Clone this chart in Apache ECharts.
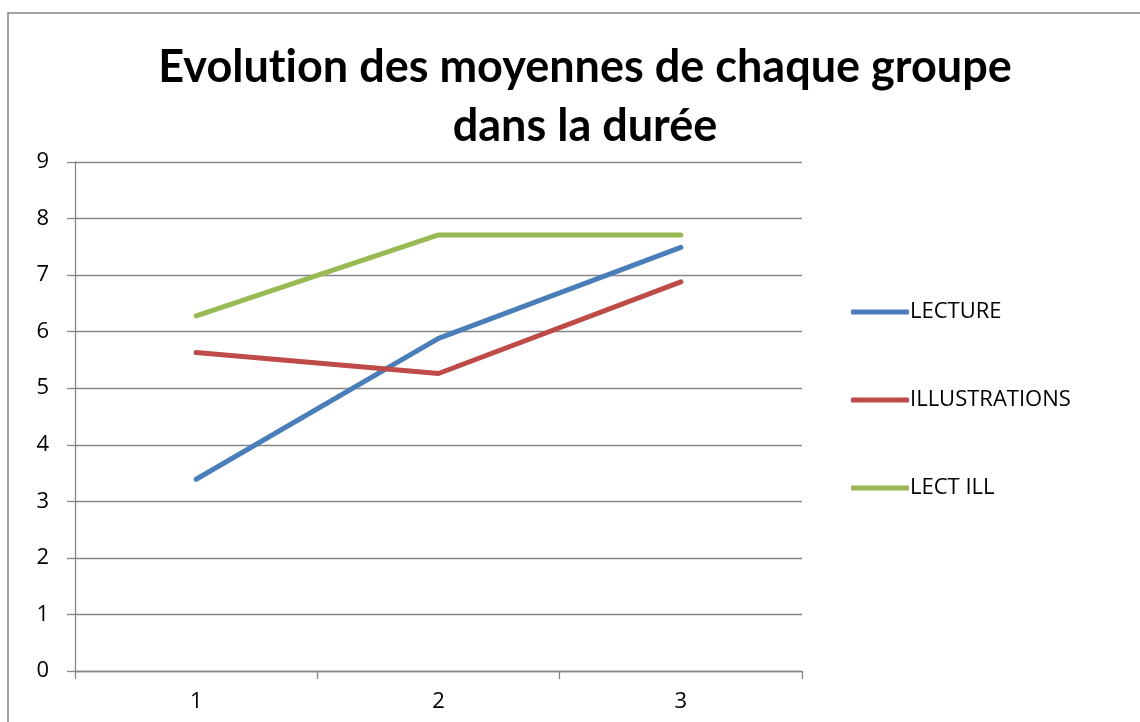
<!DOCTYPE html>
<html><head><meta charset="utf-8">
<script src="https://cdn.jsdelivr.net/npm/echarts@6/dist/echarts.min.js"></script>
<style>html,body{margin:0;padding:0;background:#fff}#c{width:1140px;height:722px}</style>
</head><body><div id="c"></div>
<script>
const titleLines = ['Evolution des moyennes de chaque groupe', 'dans la durée'];
const categories = ['1', '2', '3'];
const yTicks = { min: 0, max: 9, interval: 1 };
const lecture = [3.39, 5.88, 7.49];
const illustrations = [5.63, 5.26, 6.88];
const lectIll = [6.28, 7.71, 7.71];
const seriesNames = ['LECTURE', 'ILLUSTRATIONS', 'LECT ILL'];
const colors = ['#4a7ebb', '#be4b48', '#98b954'];

const chart = echarts.init(document.getElementById('c'));
const gridCol = '#868686';
const titleStyle = { fontFamily: 'Lato', fontWeight: 'bold', fontSize: 45, lineHeight: 59, color: '#000' };
// split "ti" into separate text runs so no ligature is formed
const line1 = titleLines[0];
const k = line1.indexOf('ti') + 1;
const titleText = '{t|' + line1.slice(0, k) + '}{t|' + line1.slice(k) + '}\n{t|' + titleLines[1] + '}';
const lineSeries = [lecture, illustrations, lectIll].map((d, i) => ({
  name: seriesNames[i], type: 'line', data: d, symbol: 'none',
  lineStyle: { color: colors[i], width: 5, cap: 'round', join: 'round' },
  itemStyle: { color: colors[i] }
}));
chart.setOption({
  animation: false,
  title: {
    text: titleText, left: 580, top: 33, textAlign: 'center',
    textStyle: Object.assign({ rich: { t: titleStyle } }, titleStyle)
  },
  grid: { left: 75, right: 1140 - 802, top: 162, bottom: 722 - 671, containLabel: false },
  legend: {
    orient: 'vertical', left: 846, top: 296, itemGap: 66,
    itemWidth: 58, itemHeight: 5, icon: 'roundRect',
    textStyle: { fontFamily: 'Open Sans', fontSize: 22, color: '#000', padding: [0, 0, 0, -4] },
    data: seriesNames
  },
  xAxis: {
    type: 'category', data: categories, boundaryGap: true,
    axisLine: { lineStyle: { color: gridCol, width: 1.3 } },
    axisTick: { show: true, length: 8, lineStyle: { color: gridCol, width: 1.3 } },
    axisLabel: { fontFamily: 'Open Sans', fontSize: 22, color: '#000', margin: 20 }
  },
  yAxis: {
    type: 'value', min: yTicks.min, max: yTicks.max, interval: yTicks.interval,
    axisLine: { show: true, lineStyle: { color: gridCol, width: 1.3 } },
    axisTick: { show: true, length: 8, lineStyle: { color: gridCol, width: 1.3 } },
    splitLine: { lineStyle: { color: gridCol, width: 1.3 } },
    axisLabel: { fontFamily: 'Open Sans', fontSize: 22, color: '#000', margin: 26 }
  },
  graphic: [{
    type: 'rect', shape: { x: 8, y: 13, width: 1200, height: 800 },
    style: { fill: 'none', stroke: gridCol, lineWidth: 1.5 }, silent: true, z: -1
  }],
  series: lineSeries
});
</script></body></html>
